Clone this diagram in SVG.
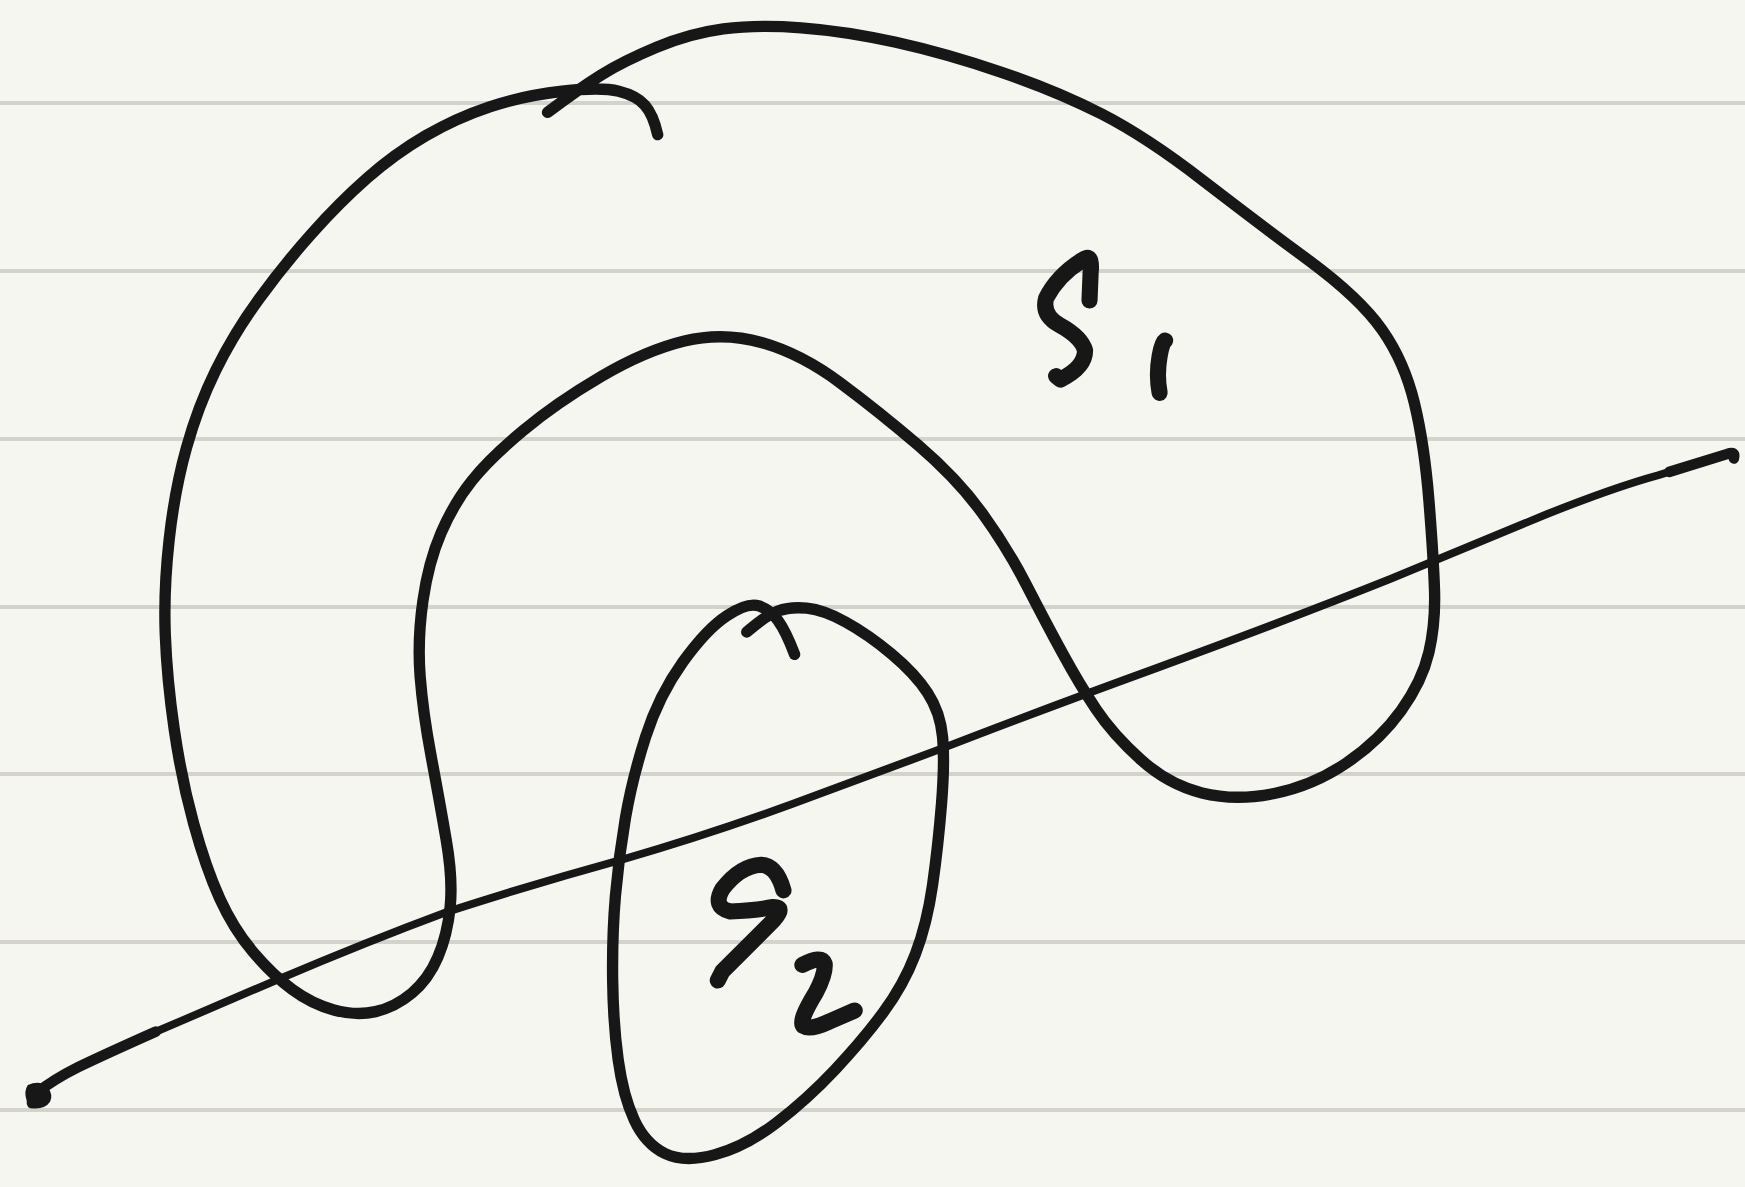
<svg xmlns="http://www.w3.org/2000/svg" width="1745" height="1187" viewBox="0 0 1745 1187">
<style>
.rule{stroke:#d3d3cc;stroke-width:4;fill:none}
.ink{stroke:#171717;fill:none;stroke-linecap:round;stroke-linejoin:round}
.curve{stroke-width:10.2}
.thin{stroke-width:7}
.thick-end{stroke-width:9.5}
.lbl{stroke-width:14.5}
</style>
<rect width="1745" height="1187" fill="#f6f6f1"/>
<g id="ruled-lines">
<line class="rule" x1="0" y1="103" x2="1745" y2="103"/>
<line class="rule" x1="0" y1="271" x2="1745" y2="271"/>
<line class="rule" x1="0" y1="439" x2="1745" y2="439"/>
<line class="rule" x1="0" y1="607" x2="1745" y2="607"/>
<line class="rule" x1="0" y1="774" x2="1745" y2="774"/>
<line class="rule" x1="0" y1="942" x2="1745" y2="942"/>
<line class="rule" x1="0" y1="1110" x2="1745" y2="1110"/>
</g>
<g transform="scale(1.11288)">
<g id="curve-s1">
<path class="ink curve" d="M 492,101 Q 520,80 540,67.5 Q 560,55 590,42.5 Q 620,30 650,26 Q 680,22 720,25 Q 760,28 805,38 Q 850,48 900,65 Q 950,82 990,102.5 Q 1030,123 1080,161.5 Q 1130,200 1176,234 Q 1222,268 1242,296.5 Q 1262,325 1271,362.5 Q 1280,400 1284,450 Q 1288,500 1289,530 Q 1290,560 1284,586 Q 1278,612 1259,638.5 Q 1240,665 1210,685.5 Q 1180,706 1145,713 Q 1110,720 1080,712.5 Q 1050,705 1025,682.5 Q 1000,660 985,637.5 Q 970,615 955,587.5 Q 940,560 922.5,526 Q 905,492 882.5,461 Q 860,430 825,400 Q 790,370 755,344 Q 720,318 685,308 Q 650,298 615,306.5 Q 580,315 540,338.5 Q 500,362 470,387 Q 440,412 424,432 Q 408,452 396.5,478.5 Q 385,505 380,540 Q 375,575 377.5,607.5 Q 380,640 387.5,680 Q 395,720 401,755 Q 407,790 404.5,815 Q 402,840 393.5,860 Q 385,880 370,892.5 Q 355,905 337.5,909 Q 320,913 300,907.5 Q 280,902 262.5,889 Q 245,876 227.5,855.5 Q 210,835 197.5,807.5 Q 185,780 174,740 Q 163,700 156.5,655 Q 150,610 148.5,570 Q 147,530 152,485 Q 157,440 167.5,402.5 Q 178,365 194,332.5 Q 210,300 232.5,269 Q 255,238 280,210 Q 305,182 330,160 Q 355,138 382.5,122 Q 410,106 440,96 Q 470,86 505,82 Q 540,78 556,82 Q 572,86 579.5,94.5 Q 587,103 591,121"/>
</g>
<g id="curve-s2">
<path class="ink curve" d="M 671,568 Q 688,553 699,549 Q 710,545 725,546.5 Q 740,548 760,559 Q 780,570 801,587.5 Q 822,605 833.5,622.5 Q 845,640 847,662.5 Q 849,685 846,722.5 Q 843,760 838,795 Q 833,830 822.5,857.5 Q 812,885 793.5,910 Q 775,935 750,961.5 Q 725,988 697.5,1009 Q 670,1030 642.5,1037.5 Q 615,1045 597.5,1036.5 Q 580,1028 570,1006.5 Q 560,985 555.5,952.5 Q 551,920 550.5,880 Q 550,840 553,805 Q 556,770 562,735 Q 568,700 580,662.5 Q 592,625 613.5,595 Q 635,565 653.5,553 Q 672,541 682,544.5 Q 692,548 699,557.5 Q 706,567 714,588"/>
</g>
<g id="line">
<path class="ink thin" d="M 33,982 Q 48,970 70,959 Q 95,947 145,925 L 250,880 Q 330,846 400,820 Q 480,794 560,772 Q 650,746 740,712 L 840,675 Q 930,640 1040,600 Q 1160,556 1250,520 L 1390,462 Q 1450,438 1490,427 L 1552,408 Q 1560,405 1558,412"/>
<path class="ink thick-end" d="M 33,982 Q 48,970 70,959 Q 95,947 140,927"/>
<path class="ink thick-end" d="M 1500,424 L 1552,408 Q 1560,405 1558,412"/>
<path fill="#171717" d="M 25,975 Q 36,970 43,977 Q 48,984 45,990 Q 41,996 32,996 Q 23,997 24,989 Q 21,981 25,975 Z"/>
</g>
<g id="label-s1">
<path class="ink lbl" d="M 979,270 L 980,245 Q 982,226 972,234 Q 950,248 940,268 Q 936,283 952,292 Q 972,303 975,315 Q 975,330 953,341 L 949,338"/>
<path class="ink lbl" d="M 1047,306 Q 1044,308 1042,320 Q 1039,337 1042,353"/>
</g>
<g id="label-s2">
<path class="ink lbl" d="M 704,800 Q 698,778 684,777 Q 665,778 649,799 Q 640,815 656,819 Q 680,818 695,815 Q 706,815 695,827 L 649,873 L 645,881"/>
<path class="ink lbl" d="M 721,867 Q 738,858 741,866 Q 742,875 733,892 Q 717,918 722,922 Q 728,926 745,918 L 768,908"/>
</g>
</g>
</svg>
